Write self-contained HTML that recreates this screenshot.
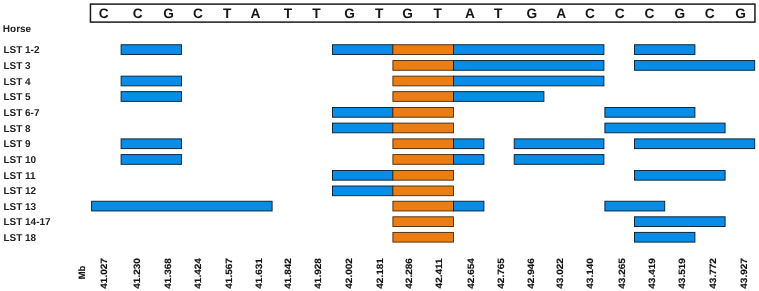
<!DOCTYPE html>
<html><head><meta charset="utf-8"><title>LST haplotypes</title>
<style>
html,body{margin:0;padding:0;background:#fff;}
body{width:759px;height:291px;overflow:hidden;}
svg{display:block;text-rendering:geometricPrecision;font-family:"Liberation Sans",sans-serif;font-weight:bold;}
.nt{font-size:13.7px;text-anchor:middle;fill:#161616;}
.lab{font-size:10px;fill:#222;}
.mb{font-size:9.2px;text-anchor:middle;fill:#141414;stroke:#141414;stroke-width:0.15px;}
.b{fill:#078de6;stroke:#0d2236;stroke-width:0.95;}
.o{fill:#ea7e15;stroke:#47280a;stroke-width:0.9;}
</style></head><body>
<svg width="759" height="291" viewBox="0 0 759 291">
<rect x="0" y="0" width="759" height="291" fill="#ffffff"/>
<rect x="90.45" y="4.1" width="664.5" height="18" fill="none" stroke="#1a1a1a" stroke-width="1.5"/>
<text class="nt" x="103.8" y="17.8">C</text>
<text class="nt" x="137.6" y="17.8">C</text>
<text class="nt" x="168.5" y="17.8">G</text>
<text class="nt" x="198.0" y="17.8">C</text>
<text class="nt" x="227.2" y="17.8">T</text>
<text class="nt" x="255.5" y="17.8">A</text>
<text class="nt" x="288.0" y="17.8">T</text>
<text class="nt" x="316.5" y="17.8">T</text>
<text class="nt" x="349.5" y="17.8">G</text>
<text class="nt" x="379.1" y="17.8">T</text>
<text class="nt" x="407.7" y="17.8">G</text>
<text class="nt" x="437.8" y="17.8">T</text>
<text class="nt" x="469.9" y="17.8">A</text>
<text class="nt" x="498.1" y="17.8">T</text>
<text class="nt" x="531.9" y="17.8">G</text>
<text class="nt" x="561.3" y="17.8">A</text>
<text class="nt" x="590.0" y="17.8">C</text>
<text class="nt" x="619.8" y="17.8">C</text>
<text class="nt" x="649.5" y="17.8">C</text>
<text class="nt" x="679.9" y="17.8">G</text>
<text class="nt" x="709.6" y="17.8">C</text>
<text class="nt" x="740.6" y="17.8">G</text>
<text class="lab" x="2.8" y="31.7">Horse</text>
<text class="lab" x="3.4" y="53.15">LST 1-2</text>
<rect class="b" x="121.1" y="44.75" width="60.4" height="9.7"/>
<rect class="b" x="332.5" y="44.75" width="60.4" height="9.7"/>
<rect class="o" x="392.9" y="44.75" width="60.6" height="9.7"/>
<rect class="b" x="453.5" y="44.75" width="150.4" height="9.7"/>
<rect class="b" x="634.5" y="44.75" width="60.4" height="9.7"/>
<text class="lab" x="3.4" y="68.95">LST 3</text>
<rect class="o" x="392.9" y="60.55" width="60.6" height="9.7"/>
<rect class="b" x="453.5" y="60.55" width="150.4" height="9.7"/>
<rect class="b" x="634.5" y="60.55" width="120.2" height="9.7"/>
<text class="lab" x="3.4" y="84.55">LST 4</text>
<rect class="b" x="121.1" y="76.15" width="60.4" height="9.7"/>
<rect class="o" x="392.9" y="76.15" width="60.6" height="9.7"/>
<rect class="b" x="453.5" y="76.15" width="150.4" height="9.7"/>
<text class="lab" x="3.4" y="100.05">LST 5</text>
<rect class="b" x="121.1" y="91.65" width="60.4" height="9.7"/>
<rect class="o" x="392.9" y="91.65" width="60.6" height="9.7"/>
<rect class="b" x="453.5" y="91.65" width="90.4" height="9.7"/>
<text class="lab" x="3.4" y="115.90">LST 6-7</text>
<rect class="b" x="332.5" y="107.50" width="60.4" height="9.7"/>
<rect class="o" x="392.9" y="107.50" width="60.6" height="9.7"/>
<rect class="b" x="604.9" y="107.50" width="90.0" height="9.7"/>
<text class="lab" x="3.4" y="131.50">LST 8</text>
<rect class="b" x="332.5" y="123.10" width="60.4" height="9.7"/>
<rect class="o" x="392.9" y="123.10" width="60.6" height="9.7"/>
<rect class="b" x="604.9" y="123.10" width="120.2" height="9.7"/>
<text class="lab" x="3.4" y="147.30">LST 9</text>
<rect class="b" x="121.1" y="138.90" width="60.4" height="9.7"/>
<rect class="o" x="392.9" y="138.90" width="60.6" height="9.7"/>
<rect class="b" x="453.5" y="138.90" width="30.4" height="9.7"/>
<rect class="b" x="514.2" y="138.90" width="89.7" height="9.7"/>
<rect class="b" x="634.5" y="138.90" width="120.2" height="9.7"/>
<text class="lab" x="3.4" y="163.00">LST 10</text>
<rect class="b" x="121.1" y="154.60" width="60.4" height="9.7"/>
<rect class="o" x="392.9" y="154.60" width="60.6" height="9.7"/>
<rect class="b" x="453.5" y="154.60" width="30.4" height="9.7"/>
<rect class="b" x="514.2" y="154.60" width="89.7" height="9.7"/>
<text class="lab" x="3.4" y="178.85">LST 11</text>
<rect class="b" x="332.5" y="170.45" width="60.4" height="9.7"/>
<rect class="o" x="392.9" y="170.45" width="60.6" height="9.7"/>
<rect class="b" x="634.5" y="170.45" width="90.6" height="9.7"/>
<text class="lab" x="3.4" y="194.40">LST 12</text>
<rect class="b" x="332.5" y="186.00" width="60.4" height="9.7"/>
<rect class="o" x="392.9" y="186.00" width="60.6" height="9.7"/>
<text class="lab" x="3.4" y="209.65">LST 13</text>
<rect class="b" x="91.6" y="201.25" width="180.5" height="9.7"/>
<rect class="o" x="392.9" y="201.25" width="60.6" height="9.7"/>
<rect class="b" x="453.5" y="201.25" width="30.4" height="9.7"/>
<rect class="b" x="604.9" y="201.25" width="59.8" height="9.7"/>
<text class="lab" x="3.4" y="225.20">LST 14-17</text>
<rect class="o" x="392.9" y="216.80" width="60.6" height="9.7"/>
<rect class="b" x="634.5" y="216.80" width="90.6" height="9.7"/>
<text class="lab" x="3.4" y="240.80">LST 18</text>
<rect class="o" x="392.9" y="232.40" width="60.6" height="9.7"/>
<rect class="b" x="634.5" y="232.40" width="60.4" height="9.7"/>
<text class="mb" transform="translate(85.0,272.6) rotate(-90) scale(1.02,1)">Mb</text>
<text class="mb" transform="translate(107.0,273.4) rotate(-90) scale(1.09,1)">41.027</text>
<text class="mb" transform="translate(139.9,273.4) rotate(-90) scale(1.09,1)">41.230</text>
<text class="mb" transform="translate(170.7,273.4) rotate(-90) scale(1.09,1)">41.368</text>
<text class="mb" transform="translate(200.5,273.4) rotate(-90) scale(1.09,1)">41.424</text>
<text class="mb" transform="translate(231.5,273.4) rotate(-90) scale(1.09,1)">41.567</text>
<text class="mb" transform="translate(261.7,273.4) rotate(-90) scale(1.09,1)">41.631</text>
<text class="mb" transform="translate(291.3,273.4) rotate(-90) scale(1.09,1)">41.842</text>
<text class="mb" transform="translate(321.3,273.4) rotate(-90) scale(1.09,1)">41.928</text>
<text class="mb" transform="translate(352.1,273.4) rotate(-90) scale(1.09,1)">42.002</text>
<text class="mb" transform="translate(383.1,273.4) rotate(-90) scale(1.09,1)">42.181</text>
<text class="mb" transform="translate(411.8,273.4) rotate(-90) scale(1.09,1)">42.286</text>
<text class="mb" transform="translate(442.0,273.4) rotate(-90) scale(1.09,1)">42.411</text>
<text class="mb" transform="translate(473.7,273.4) rotate(-90) scale(1.09,1)">42.654</text>
<text class="mb" transform="translate(503.6,273.4) rotate(-90) scale(1.09,1)">42.765</text>
<text class="mb" transform="translate(533.8,273.4) rotate(-90) scale(1.09,1)">42.946</text>
<text class="mb" transform="translate(563.4,273.4) rotate(-90) scale(1.09,1)">43.022</text>
<text class="mb" transform="translate(593.0,273.4) rotate(-90) scale(1.09,1)">43.140</text>
<text class="mb" transform="translate(624.6,273.4) rotate(-90) scale(1.09,1)">43.265</text>
<text class="mb" transform="translate(654.6,273.4) rotate(-90) scale(1.09,1)">43.419</text>
<text class="mb" transform="translate(684.5,273.4) rotate(-90) scale(1.09,1)">43.519</text>
<text class="mb" transform="translate(715.7,273.4) rotate(-90) scale(1.09,1)">43.772</text>
<text class="mb" transform="translate(746.7,273.4) rotate(-90) scale(1.09,1)">43.927</text>
</svg>
</body></html>
